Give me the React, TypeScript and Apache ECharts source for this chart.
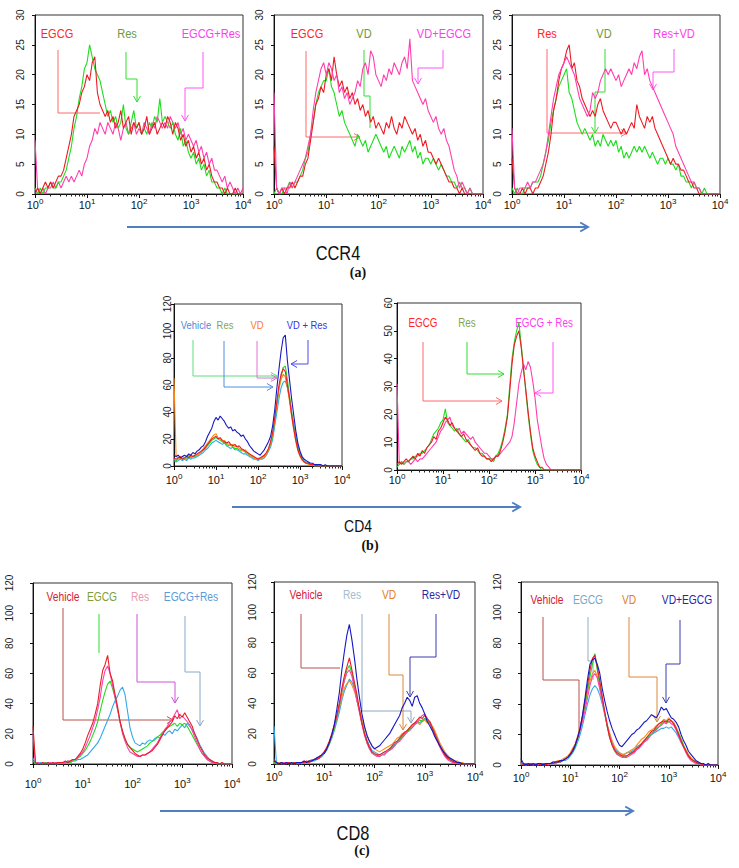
import React, { useEffect, useRef } from "react";
import * as echarts from "echarts";

// ---------- shared x positions (log10 of fluorescence, 10^0 .. 10^4) ----------
const LOGX = [
  0, 0.05, 0.1, 0.15, 0.2, 0.25, 0.3, 0.35, 0.4, 0.45,
  0.5, 0.55, 0.6, 0.65, 0.7, 0.75, 0.8, 0.85, 0.9, 0.95,
  1, 1.05, 1.1, 1.15, 1.2, 1.25, 1.3, 1.35, 1.4, 1.45,
  1.5, 1.55, 1.6, 1.65, 1.7, 1.75, 1.8, 1.85, 1.9, 1.95,
  2, 2.05, 2.1, 2.15, 2.2, 2.25, 2.3, 2.35, 2.4, 2.45,
  2.5, 2.55, 2.6, 2.65, 2.7, 2.75, 2.8, 2.85, 2.9, 2.95,
  3, 3.05, 3.1, 3.15, 3.2, 3.25, 3.3, 3.35, 3.4, 3.45,
  3.5, 3.55, 3.6, 3.65, 3.7, 3.75, 3.8, 3.85, 3.9, 3.95,
  4,
];
const X_TICKS = [0, 1, 2, 3, 4];

// ---------- (a) CCR4 ----------
const A1_EGCG = [
  0, 1, 0, 1, 2, 1, 2, 1, 2, 3,
  3, 4, 6, 8, 10, 13, 14, 15, 17, 18,
  20, 19, 22, 23, 17, 15, 14, 13, 14, 12,
  13, 11, 12, 14, 11, 12, 13, 10, 12, 11,
  12, 10, 11, 13, 10, 11, 12, 10, 11, 12,
  11, 13, 12, 10, 12, 11, 9, 10, 8, 9,
  7, 8, 6, 7, 5, 6, 4, 5, 3, 2,
  2, 1, 1, 0, 1, 0, 0, 1, 0, 0,
  0,
];
const A1_RES = [
  1, 0, 1, 0, 1, 1, 2, 1, 1, 2,
  2, 3, 4, 6, 8, 11, 13, 16, 18, 21,
  22, 25, 23, 21, 20, 19, 17, 15, 13, 14,
  12, 13, 11, 12, 15, 11, 10, 12, 14, 11,
  12, 10, 11, 10, 12, 11, 13, 12, 16, 12,
  13, 12, 11, 12, 10, 9, 11, 8, 9, 7,
  6, 7, 5, 6, 4, 5, 3, 4, 2, 2,
  1, 1, 0, 1, 0, 0, 0, 0, 0, 0,
  0,
];
const A1_EGCG_RES = [
  9, 1, 0, 1, 0, 1, 1, 2, 1, 2,
  1, 2, 3, 2, 3, 2, 3, 4, 3, 5,
  6, 8, 9, 11, 10, 12, 11, 10, 12, 11,
  10, 12, 11, 9, 11, 12, 10, 11, 12, 10,
  11, 10, 12, 11, 10, 12, 11, 13, 12, 11,
  12, 11, 13, 12, 11, 12, 10, 11, 9, 10,
  9, 8, 9, 7, 8, 6, 7, 5, 6, 4,
  4, 3, 2, 3, 1, 2, 1, 0, 1, 0,
  1,
];
const A2_EGCG = [
  8, 1, 0, 1, 0, 1, 1, 2, 1, 2,
  3, 3, 5, 6, 9, 12, 15, 16, 18, 17,
  20, 21, 19, 23, 20, 18, 19, 17, 18, 16,
  17, 15, 16, 14, 15, 13, 14, 12, 13, 11,
  12, 11, 10, 12, 11, 13, 11, 10, 12, 11,
  13, 12, 11, 10, 11, 9, 10, 8, 9, 7,
  7, 6, 5, 6, 5, 4, 3, 2, 2, 1,
  1, 0, 1, 0, 0, 0, 0, 0, 0, 0,
  0,
];
const A2_VD = [
  0, 1, 0, 0, 1, 1, 2, 1, 2, 2,
  3, 4, 6, 7, 10, 12, 15, 17, 18, 19,
  19, 21, 18, 17, 15, 13, 14, 12, 11, 10,
  9, 8, 10, 9, 8, 9, 7, 8, 9, 10,
  9, 8, 7, 8, 6, 7, 8, 7, 6, 8,
  7, 8, 9, 7, 8, 6, 7, 5, 6, 6,
  5, 6, 5, 4, 5, 4, 3, 3, 2, 2,
  1, 2, 1, 1, 0, 1, 0, 0, 0, 0,
  0,
];
const A2_VD_EGCG = [
  17, 1, 0, 1, 1, 0, 2, 1, 2, 3,
  4, 5, 6, 8, 10, 14, 17, 19, 21, 22,
  20, 22, 21, 19, 20, 17, 18, 16, 17, 15,
  16, 17, 19, 18, 21, 22, 20, 24, 23, 20,
  19, 18, 20, 19, 21, 20, 22, 21, 20, 22,
  23, 21, 26, 19, 18, 17, 16, 15, 16, 14,
  13, 12, 13, 11, 10, 11, 9, 8, 6, 4,
  3, 1, 2, 1, 0, 1, 0, 0, 0, 0,
  0,
];
const A3_RES = [
  6, 1, 0, 0, 1, 0, 1, 1, 0, 1,
  1, 2, 3, 5, 7, 10, 14, 16, 19, 21,
  22, 24, 25, 21, 22, 19, 18, 16, 15, 14,
  13, 14, 13, 15, 16, 14, 13, 12, 11, 12,
  12, 11, 10, 11, 10, 11, 12, 11, 15, 13,
  12, 11, 13, 12, 13, 11, 10, 9, 8, 7,
  6, 5, 6, 5, 5, 4, 4, 3, 2, 2,
  1, 1, 0, 0, 0, 0, 0, 0, 0, 0,
  0,
];
const A3_VD = [
  1, 0, 1, 0, 0, 1, 1, 1, 2, 2,
  2, 3, 5, 7, 9, 12, 14, 16, 18, 19,
  20, 21, 17, 16, 14, 12, 11, 10, 11, 10,
  9, 10, 8, 9, 8, 10, 9, 8, 9, 8,
  9, 7, 8, 6, 7, 6, 7, 8, 7, 8,
  7, 8, 7, 6, 7, 6, 5, 6, 6, 5,
  6, 5, 5, 4, 5, 3, 3, 2, 2, 1,
  2, 1, 1, 0, 1, 0, 0, 0, 0, 0,
  0,
];
const A3_RES_VD = [
  11, 1, 0, 1, 1, 1, 2, 1, 2, 2,
  3, 4, 5, 7, 10, 13, 16, 18, 20, 21,
  22, 23, 22, 21, 20, 18, 16, 15, 14, 13,
  14, 17, 16, 17, 19, 20, 21, 20, 21, 20,
  19, 20, 18, 19, 20, 21, 20, 22, 21, 23,
  24, 20, 21, 19, 18, 17, 16, 15, 14, 13,
  12, 11, 10, 8, 7, 6, 5, 4, 3, 2,
  2, 1, 1, 0, 0, 0, 0, 0, 0, 0,
  0,
];

// ---------- (b) CD4 ----------
const B1_VD_RES = [
  8, 7, 8, 6, 7, 8, 7, 9, 8, 10,
  9, 11, 12, 14, 15, 18, 22, 25, 28, 33,
  36, 34, 37, 35, 33, 30, 28, 29, 26, 27,
  25, 24, 22, 23, 20, 18, 15, 13, 11, 10,
  9, 8, 10, 12, 15, 18, 22, 30, 42, 58,
  72, 85, 95, 97, 78, 64, 50, 38, 26, 17,
  11, 7, 5, 4, 3, 2, 2, 1, 1, 1,
  1, 0, 1, 0, 0, 0, 0, 0, 0, 0,
  0,
];
const B1_RED = [
  6, 5, 6, 7, 5, 6, 7, 6, 8, 7,
  8, 9, 10, 11, 12, 14, 16, 18, 20, 21,
  22, 20, 21, 19, 18, 17, 18, 16, 15, 16,
  14, 15, 13, 12, 11, 10, 9, 8, 7, 6,
  5, 6, 7, 8, 10, 13, 18, 25, 36, 48,
  60, 68, 72, 70, 60, 50, 38, 28, 19, 12,
  8, 5, 3, 2, 2, 1, 1, 1, 0, 0,
  0, 0, 0, 0, 0, 0, 0, 0, 0, 0,
  0,
];
const B1_VD = [
  65, 7, 6, 5, 7, 6, 6, 8, 7, 7,
  8, 8, 9, 11, 13, 15, 17, 19, 21, 23,
  24, 21, 20, 18, 19, 17, 16, 15, 16, 14,
  15, 13, 12, 11, 12, 10, 8, 7, 6, 5,
  6, 5, 6, 7, 9, 12, 17, 24, 34, 46,
  58, 64, 68, 66, 58, 48, 37, 27, 18, 11,
  7, 4, 3, 2, 1, 1, 1, 0, 0, 0,
  0, 0, 0, 0, 0, 0, 0, 0, 0, 0,
  0,
];
const B1_RES = [
  5, 4, 5, 6, 5, 6, 5, 7, 6, 7,
  7, 8, 9, 10, 12, 13, 15, 17, 19, 20,
  21, 20, 19, 18, 17, 16, 15, 16, 14, 13,
  13, 12, 11, 12, 10, 9, 8, 7, 6, 6,
  5, 6, 6, 8, 9, 12, 16, 22, 33, 45,
  57, 66, 73, 74, 64, 52, 40, 29, 20, 13,
  8, 5, 3, 2, 2, 1, 1, 0, 0, 0,
  0, 0, 0, 0, 0, 0, 0, 0, 0, 0,
  0,
];
const B1_VEHICLE = [
  4, 3, 4, 5, 4, 5, 4, 6, 5, 6,
  6, 7, 8, 9, 10, 12, 13, 15, 17, 18,
  19, 18, 17, 16, 17, 15, 14, 13, 14, 12,
  12, 11, 10, 9, 9, 8, 7, 6, 5, 5,
  4, 5, 5, 6, 8, 11, 14, 20, 30, 40,
  50, 58, 62, 63, 58, 50, 40, 31, 22, 15,
  10, 6, 4, 3, 2, 1, 1, 0, 0, 0,
  0, 0, 0, 0, 0, 0, 0, 0, 0, 0,
  0,
];
const B2_EGCG = [
  2, 3, 2, 3, 4, 3, 4, 5, 4, 6,
  5, 7, 6, 8, 9, 10, 12, 11, 14, 15,
  17, 19, 18, 16, 17, 15, 14, 13, 12, 13,
  11, 10, 9, 8, 7, 8, 6, 5, 5, 4,
  4, 3, 4, 5, 5, 7, 10, 14, 19, 28,
  38, 45, 48, 50, 44, 36, 29, 21, 14, 8,
  5, 3, 1, 1, 0, 0, 0, 0, 0, 0,
  0, 0, 0, 0, 0, 0, 0, 0, 0, 0,
  0,
];
const B2_RES = [
  1, 2, 3, 2, 3, 3, 4, 4, 5, 5,
  6, 6, 7, 8, 9, 11, 13, 14, 15, 17,
  18, 22, 17, 16, 15, 14, 15, 13, 12, 11,
  10, 11, 9, 8, 8, 7, 6, 6, 5, 4,
  4, 4, 3, 5, 6, 8, 11, 15, 20, 30,
  40, 46, 50, 53, 45, 37, 28, 20, 13, 7,
  4, 2, 1, 0, 0, 0, 0, 0, 0, 0,
  0, 0, 0, 0, 0, 0, 0, 0, 0, 0,
  0,
];
const B2_EGCG_RES = [
  31, 2, 3, 2, 3, 3, 2, 3, 4, 3,
  4, 4, 5, 6, 7, 8, 9, 10, 12, 14,
  15, 17, 18, 19, 16, 15, 14, 15, 13, 14,
  13, 12, 11, 12, 10, 9, 8, 7, 6, 6,
  5, 4, 4, 5, 5, 6, 7, 8, 9, 10,
  12, 17, 24, 31, 35, 38, 36, 39, 37, 32,
  26, 18, 13, 8, 4, 2, 1, 0, 0, 0,
  0, 0, 0, 0, 0, 0, 0, 0, 0, 0,
  0,
];

// ---------- (c) CD8 ----------
const C1_VEHICLE = [
  25, 1, 0, 0, 1, 0, 1, 0, 1, 0,
  1, 1, 1, 2, 1, 2, 3, 3, 5, 7,
  10, 14, 19, 23, 27, 33, 40, 52, 62, 66,
  72, 60, 55, 46, 38, 28, 22, 17, 13, 11,
  9, 7, 6, 5, 6, 6, 7, 8, 9, 11,
  13, 16, 19, 22, 24, 26, 28, 32, 30, 33,
  31, 34, 31, 28, 25, 20, 16, 12, 9, 6,
  4, 3, 2, 1, 1, 0, 1, 0, 0, 0,
  0,
];
const C1_EGCG = [
  2, 0, 1, 0, 0, 1, 0, 0, 1, 0,
  0, 1, 1, 1, 2, 1, 2, 3, 4, 5,
  7, 9, 12, 15, 19, 23, 28, 35, 42, 48,
  53, 55, 50, 44, 36, 28, 21, 16, 13, 11,
  10, 9, 8, 9, 10, 11, 12, 14, 15, 16,
  18, 19, 21, 22, 24, 25, 26, 27, 25, 27,
  26, 27, 25, 22, 19, 16, 13, 10, 7, 5,
  3, 2, 1, 1, 0, 0, 0, 0, 0, 0,
  0,
];
const C1_RES = [
  20, 0, 1, 0, 1, 0, 0, 1, 0, 1,
  1, 0, 1, 1, 2, 2, 3, 3, 4, 6,
  8, 11, 15, 19, 24, 29, 36, 44, 55, 62,
  65, 60, 52, 44, 36, 28, 20, 15, 11, 8,
  7, 6, 5, 5, 6, 6, 7, 8, 10, 12,
  14, 17, 20, 23, 25, 28, 30, 33, 36, 30,
  32, 30, 28, 26, 22, 18, 14, 10, 7, 5,
  3, 2, 1, 1, 0, 0, 0, 0, 0, 0,
  0,
];
const C1_EGCG_RES = [
  4, 0, 0, 1, 0, 0, 1, 0, 0, 0,
  0, 1, 0, 1, 1, 1, 2, 2, 3, 3,
  4, 5, 6, 8, 10, 12, 14, 17, 21, 25,
  29, 33, 38, 42, 45, 49, 51, 46, 35, 24,
  18, 14, 13, 12, 14, 13, 15, 16, 15, 17,
  18, 17, 20, 19, 21, 22, 20, 23, 22, 24,
  26, 24, 27, 25, 23, 20, 17, 13, 10, 7,
  5, 3, 2, 1, 1, 0, 0, 0, 0, 0,
  0,
];
const C2_RES_VD = [
  2, 1, 0, 1, 0, 1, 0, 1, 0, 1,
  1, 1, 2, 1, 2, 2, 3, 4, 5, 6,
  7, 10, 14, 19, 26, 36, 47, 62, 74, 85,
  92, 82, 70, 56, 44, 33, 25, 19, 15, 12,
  10, 11, 12, 14, 16, 18, 20, 23, 26, 29,
  32, 37, 40, 44, 42, 38, 44, 45, 40, 37,
  33, 28, 25, 22, 18, 15, 12, 9, 7, 5,
  4, 3, 2, 1, 1, 0, 0, 0, 0, 0,
  0,
];
const C2_VEHICLE = [
  3, 1, 0, 1, 0, 0, 1, 0, 1, 0,
  0, 1, 1, 2, 1, 2, 3, 3, 4, 6,
  8, 11, 15, 20, 26, 32, 40, 50, 58, 64,
  70, 62, 54, 46, 36, 27, 20, 15, 11, 8,
  7, 6, 6, 7, 8, 9, 10, 12, 14, 15,
  17, 19, 21, 22, 24, 26, 27, 29, 31, 30,
  32, 30, 28, 24, 20, 16, 12, 9, 6, 4,
  3, 2, 1, 1, 0, 0, 0, 0, 0, 0,
  0,
];
const C2_RES = [
  25, 0, 1, 0, 0, 1, 0, 0, 1, 0,
  1, 0, 1, 1, 2, 2, 2, 3, 4, 5,
  7, 9, 13, 17, 22, 28, 34, 42, 48, 52,
  56, 54, 50, 42, 35, 27, 21, 16, 12, 9,
  8, 7, 6, 7, 8, 8, 10, 11, 13, 14,
  16, 18, 20, 22, 23, 25, 27, 28, 27, 29,
  30, 29, 27, 24, 21, 17, 13, 10, 7, 5,
  3, 2, 1, 1, 1, 0, 0, 0, 0, 0,
  0,
];
const C2_VD = [
  1, 0, 1, 1, 0, 1, 1, 0, 1, 1,
  1, 1, 2, 1, 2, 3, 3, 4, 5, 6,
  8, 10, 14, 18, 24, 30, 37, 44, 50, 53,
  55, 52, 48, 42, 36, 30, 24, 19, 15, 12,
  10, 9, 8, 9, 10, 11, 12, 13, 15, 17,
  18, 20, 21, 22, 24, 25, 27, 28, 26, 28,
  29, 27, 28, 25, 22, 18, 14, 11, 8, 6,
  4, 3, 2, 2, 1, 1, 0, 0, 0, 0,
  0,
];
const C2_GREEN = [
  1, 0, 0, 1, 0, 1, 0, 1, 0, 0,
  1, 0, 1, 1, 2, 2, 3, 3, 4, 5,
  7, 10, 13, 18, 23, 30, 38, 47, 55, 62,
  65, 60, 52, 44, 35, 27, 20, 14, 10, 8,
  6, 6, 5, 6, 7, 8, 9, 11, 12, 14,
  16, 18, 20, 21, 23, 24, 26, 27, 29, 28,
  30, 28, 27, 24, 20, 16, 12, 9, 6, 4,
  3, 2, 1, 1, 0, 0, 0, 0, 0, 0,
  0,
];
const C2_MAGENTA = [
  0, 1, 0, 0, 1, 0, 1, 0, 0, 1,
  0, 1, 1, 1, 2, 2, 3, 4, 4, 6,
  8, 10, 14, 19, 25, 31, 39, 48, 55, 60,
  62, 58, 50, 42, 34, 26, 19, 14, 10, 7,
  6, 5, 5, 6, 6, 8, 9, 10, 12, 14,
  15, 17, 19, 21, 22, 24, 26, 28, 30, 32,
  33, 30, 27, 23, 19, 15, 11, 8, 5, 3,
  2, 1, 1, 0, 0, 0, 0, 0, 0, 0,
  0,
];
const C3_VD_EGCG = [
  4, 1, 0, 1, 0, 1, 0, 1, 1, 0,
  1, 1, 1, 2, 2, 2, 3, 3, 4, 5,
  7, 9, 13, 18, 24, 33, 44, 56, 66, 69,
  70, 66, 60, 50, 42, 35, 29, 24, 20, 16,
  13, 12, 14, 16, 18, 20, 21, 23, 24, 26,
  28, 29, 31, 33, 32, 31, 34, 38, 36, 37,
  34, 31, 30, 28, 25, 20, 16, 13, 9, 7,
  5, 3, 2, 1, 1, 0, 1, 0, 0, 0,
  0,
];
const C3_VEHICLE = [
  2, 0, 1, 0, 1, 0, 0, 1, 0, 1,
  0, 1, 1, 1, 2, 2, 2, 3, 4, 5,
  7, 10, 13, 18, 24, 32, 42, 52, 62, 70,
  72, 64, 55, 45, 35, 26, 18, 13, 10, 8,
  7, 6, 6, 6, 7, 8, 9, 11, 12, 14,
  16, 18, 20, 22, 23, 25, 27, 28, 29, 28,
  30, 29, 27, 24, 20, 16, 12, 9, 6, 4,
  3, 2, 1, 1, 0, 0, 0, 0, 0, 0,
  0,
];
const C3_EGCG = [
  1, 0, 0, 1, 0, 1, 0, 0, 1, 0,
  1, 0, 1, 1, 1, 2, 2, 3, 3, 4,
  6, 8, 11, 15, 20, 26, 33, 40, 46, 50,
  52, 50, 46, 40, 33, 26, 20, 15, 11, 9,
  8, 7, 7, 8, 8, 9, 10, 12, 13, 14,
  16, 17, 19, 20, 21, 22, 23, 24, 24, 25,
  24, 25, 23, 21, 18, 15, 12, 9, 6, 4,
  3, 2, 1, 1, 0, 0, 0, 0, 0, 0,
  0,
];
const C3_VD = [
  1, 1, 0, 1, 1, 0, 1, 1, 0, 1,
  1, 1, 1, 2, 2, 3, 3, 4, 5, 6,
  8, 11, 14, 19, 25, 32, 40, 48, 55, 60,
  62, 58, 50, 42, 34, 27, 21, 16, 12, 10,
  8, 7, 7, 8, 9, 10, 11, 13, 15, 17,
  18, 20, 22, 23, 24, 26, 27, 28, 30, 29,
  31, 29, 28, 25, 21, 17, 13, 10, 7, 5,
  3, 2, 2, 1, 1, 0, 0, 0, 0, 0,
  0,
];
const C3_GREEN = [
  0, 1, 0, 0, 1, 0, 1, 0, 1, 0,
  0, 1, 1, 1, 1, 2, 2, 3, 4, 5,
  6, 9, 12, 17, 23, 30, 39, 49, 58, 66,
  73, 62, 52, 43, 34, 25, 18, 13, 9, 7,
  6, 6, 5, 6, 7, 8, 9, 11, 12, 14,
  15, 17, 19, 21, 22, 24, 25, 27, 28, 29,
  28, 29, 27, 24, 21, 17, 13, 9, 6, 4,
  3, 2, 1, 0, 0, 0, 0, 0, 0, 0,
  0,
];
const C3_MAGENTA = [
  0, 1, 0, 1, 0, 0, 1, 0, 1, 0,
  1, 0, 1, 1, 2, 2, 3, 3, 4, 5,
  7, 10, 13, 18, 23, 29, 36, 44, 52, 58,
  60, 57, 50, 42, 34, 26, 19, 14, 10, 7,
  6, 5, 5, 5, 6, 7, 8, 10, 11, 13,
  15, 16, 18, 20, 22, 23, 25, 26, 28, 27,
  29, 27, 26, 23, 19, 15, 12, 8, 5, 3,
  2, 1, 1, 0, 0, 0, 0, 0, 0, 0,
  0,
];

// ---------- styling / layout ----------
const SANS = "'Liberation Sans','DejaVu Sans',sans-serif";
const SERIF = "'Liberation Serif','DejaVu Serif',serif";
const NARROW_SCALE = 0.82; // Arial-metric font squeezed to mimic a narrow face

const RED = "#ec1c24";
const GREEN = "#1fdc1f";
const PINK = "#ff3fae";
const ORANGE = "#ff8a1c";
const CYAN = "#2fa9ec";
const NAVY = "#1717c4";

type Curve = { data: number[]; color: string };
type Panel = {
  box: [number, number, number, number];
  ymax: number;
  step: number;
  yMargin: number;
  xMargin: number;
  font: number;
  curves: Curve[];
};

const PANELS: Panel[] = [
  { box: [35, 15, 208, 179], ymax: 30, step: 5, yMargin: 10, xMargin: 3, font: 10,
    curves: [{ data: A1_EGCG_RES, color: PINK }, { data: A1_RES, color: GREEN }, { data: A1_EGCG, color: RED }] },
  { box: [274, 15, 209, 179], ymax: 30, step: 5, yMargin: 10, xMargin: 3, font: 10,
    curves: [{ data: A2_VD, color: GREEN }, { data: A2_EGCG, color: RED }, { data: A2_VD_EGCG, color: PINK }] },
  { box: [512, 15, 208, 179], ymax: 30, step: 5, yMargin: 10, xMargin: 3, font: 10,
    curves: [{ data: A3_VD, color: GREEN }, { data: A3_RES, color: RED }, { data: A3_RES_VD, color: PINK }] },
  { box: [174, 304, 168, 162], ymax: 120, step: 20, yMargin: 2, xMargin: 6, font: 10,
    curves: [{ data: B1_VEHICLE, color: CYAN }, { data: B1_RES, color: GREEN }, { data: B1_VD, color: ORANGE },
      { data: B1_RED, color: RED }, { data: B1_VD_RES, color: NAVY }] },
  { box: [397, 303, 184, 167], ymax: 60, step: 10, yMargin: 4, xMargin: 2, font: 10,
    curves: [{ data: B2_EGCG_RES, color: PINK }, { data: B2_RES, color: GREEN }, { data: B2_EGCG, color: RED }] },
  { box: [33, 583, 199, 181], ymax: 120, step: 20, yMargin: 19, xMargin: 12, font: 10,
    curves: [{ data: C1_EGCG_RES, color: CYAN }, { data: C1_EGCG, color: GREEN }, { data: C1_RES, color: PINK },
      { data: C1_VEHICLE, color: RED }] },
  { box: [274, 582, 201, 182], ymax: 120, step: 20, yMargin: 17, xMargin: 5, font: 10,
    curves: [{ data: C2_RES, color: CYAN }, { data: C2_VD, color: ORANGE }, { data: C2_GREEN, color: GREEN },
      { data: C2_MAGENTA, color: PINK }, { data: C2_VEHICLE, color: RED }, { data: C2_RES_VD, color: NAVY }] },
  { box: [521, 582, 197, 183], ymax: 120, step: 20, yMargin: 19, xMargin: 5, font: 10,
    curves: [{ data: C3_EGCG, color: CYAN }, { data: C3_VD, color: ORANGE }, { data: C3_GREEN, color: GREEN },
      { data: C3_MAGENTA, color: PINK }, { data: C3_VEHICLE, color: RED }, { data: C3_VD_EGCG, color: NAVY }] },
];

// legend-like labels drawn above each histogram
type Label = { text: string; x: number; y: number; color: string; size: number };
const LABELS: Label[] = [
  { text: "EGCG", x: 57, y: 34, color: "#ff2626", size: 13.5 },
  { text: "Res", x: 127, y: 34, color: "#6f9a3a", size: 13.5 },
  { text: "EGCG+Res", x: 211, y: 34, color: "#ff3cf0", size: 13.5 },
  { text: "EGCG", x: 307, y: 34, color: "#ff2626", size: 13.5 },
  { text: "VD", x: 364, y: 34, color: "#6f9a3a", size: 13.5 },
  { text: "VD+EGCG", x: 444, y: 34, color: "#ff3cf0", size: 13.5 },
  { text: "Res", x: 547, y: 34, color: "#ff2626", size: 13.5 },
  { text: "VD", x: 604, y: 34, color: "#6f9a3a", size: 13.5 },
  { text: "Res+VD", x: 674, y: 34, color: "#ff3cf0", size: 13.5 },
  { text: "Vehicle", x: 196, y: 325, color: "#4f86d8", size: 11.5 },
  { text: "Res", x: 225, y: 325, color: "#86a448", size: 11.5 },
  { text: "VD", x: 257, y: 325, color: "#ff7a1c", size: 11.5 },
  { text: "VD + Res", x: 307, y: 325, color: "#3535e6", size: 11.5 },
  { text: "EGCG", x: 423, y: 323, color: "#ff2626", size: 12 },
  { text: "Res", x: 467, y: 323, color: "#86a448", size: 12 },
  { text: "EGCG + Res", x: 544, y: 323, color: "#ff3cf0", size: 12 },
  { text: "Vehicle", x: 63, y: 597, color: "#d42035", size: 12.5 },
  { text: "EGCG", x: 102, y: 597, color: "#7c9e3a", size: 12.5 },
  { text: "Res", x: 140, y: 597, color: "#e89aae", size: 12.5 },
  { text: "EGCG+Res", x: 191, y: 597, color: "#5c9ad8", size: 12.5 },
  { text: "Vehicle", x: 306, y: 595, color: "#d42035", size: 12.5 },
  { text: "Res", x: 352, y: 595, color: "#a5bcd2", size: 12.5 },
  { text: "VD", x: 389, y: 595, color: "#e0802c", size: 12.5 },
  { text: "Res+VD", x: 441, y: 595, color: "#26269e", size: 12.5 },
  { text: "Vehicle", x: 547, y: 600, color: "#d42035", size: 12.5 },
  { text: "EGCG", x: 588, y: 600, color: "#78a8c8", size: 12.5 },
  { text: "VD", x: 629, y: 600, color: "#e0802c", size: 12.5 },
  { text: "VD+EGCG", x: 687, y: 600, color: "#2424b0", size: 12.5 },
];

// bracket pointers from the labels to the curves
type Pointer = { pts: number[][]; color: string; arrow: boolean };
const POINTERS: Pointer[] = [
  { pts: [[58, 50], [58, 113], [100, 113]], color: "#ff6a6a", arrow: false },
  { pts: [[126, 52], [126, 79], [137, 79], [137, 102]], color: "#2ee02e", arrow: true },
  { pts: [[203, 52], [203, 88], [185, 88], [185, 121]], color: "#ff55f5", arrow: true },
  { pts: [[306, 51], [306, 137], [360, 137]], color: "#ff6a6a", arrow: true },
  { pts: [[364, 50], [364, 96], [370, 96], [370, 128]], color: "#2ee02e", arrow: false },
  { pts: [[443, 50], [443, 68], [418, 68], [418, 84]], color: "#ff55f5", arrow: true },
  { pts: [[547, 49], [547, 133], [627, 133]], color: "#ff6a6a", arrow: true },
  { pts: [[605, 49], [605, 92], [595, 92], [595, 133]], color: "#2ee02e", arrow: true },
  { pts: [[674, 49], [674, 72], [653, 72], [653, 90]], color: "#ff55f5", arrow: true },
  { pts: [[193, 340], [193, 376], [277, 376]], color: "#5ce07a", arrow: true },
  { pts: [[224, 341], [224, 387], [273, 387]], color: "#4f8ee0", arrow: true },
  { pts: [[257, 341], [257, 378], [277, 378]], color: "#e070d8", arrow: true },
  { pts: [[308, 340], [308, 364], [291, 364]], color: "#4a4af0", arrow: true },
  { pts: [[423, 342], [423, 401], [502, 401]], color: "#ff6a6a", arrow: true },
  { pts: [[467, 342], [467, 374], [504, 374]], color: "#2ee02e", arrow: true },
  { pts: [[553, 342], [553, 393], [535, 393]], color: "#ff55f5", arrow: true },
  { pts: [[63, 608], [63, 720], [173, 720]], color: "#b8504a", arrow: true },
  { pts: [[99, 614], [99, 653]], color: "#2ee02e", arrow: false },
  { pts: [[137, 614], [137, 682], [175, 682], [175, 703]], color: "#d050d8", arrow: true },
  { pts: [[185, 616], [185, 672], [200, 672], [200, 726]], color: "#8aa8c8", arrow: true },
  { pts: [[301, 614], [301, 668], [340, 668]], color: "#b8504a", arrow: false },
  { pts: [[362, 614], [362, 711], [411, 711], [411, 723]], color: "#8aa8c0", arrow: true },
  { pts: [[389, 614], [389, 675], [403, 675], [403, 730]], color: "#d88a3c", arrow: true },
  { pts: [[436, 614], [436, 657], [410, 657], [410, 697]], color: "#3a3ab0", arrow: true },
  { pts: [[543, 617], [543, 680], [579, 680], [579, 738]], color: "#b8504a", arrow: false },
  { pts: [[588, 617], [588, 661], [593, 661], [593, 680]], color: "#8ab0c8", arrow: false },
  { pts: [[629, 617], [629, 677], [657, 677], [657, 722]], color: "#d88a3c", arrow: true },
  { pts: [[680, 620], [680, 664], [666, 664], [666, 703]], color: "#3a3ab0", arrow: true },
];

function arrowHead(a: number[], b: number[], len: number): number[][] {
  const ang = Math.atan2(b[1] - a[1], b[0] - a[0]);
  const s = Math.PI / 6;
  return [
    [b[0] - len * Math.cos(ang - s), b[1] - len * Math.sin(ang - s)],
    [b[0], b[1]],
    [b[0] - len * Math.cos(ang + s), b[1] - len * Math.sin(ang + s)],
  ];
}

function narrowText(text: string, x: number, y: number, size: number, color: string, weight = "normal") {
  return {
    type: "text", x, y, scaleX: NARROW_SCALE, scaleY: 1, silent: true,
    style: { text, fill: color, fontSize: size, fontFamily: SANS, fontWeight: weight,
      textAlign: "center", textVerticalAlign: "middle" },
  };
}

function buildOption() {
  const minorTicks: number[] = [];
  for (let d = 0; d < 4; d++) for (let k = 2; k <= 9; k++) minorTicks.push(d + Math.log10(k));

  const grid: any[] = [];
  const xAxis: any[] = [];
  const yAxis: any[] = [];
  const series: any[] = [];

  PANELS.forEach((p, i) => {
    grid.push({
      left: p.box[0], top: p.box[1], width: p.box[2], height: p.box[3],
      show: true, borderColor: "#333", borderWidth: 1, backgroundColor: "transparent",
      containLabel: false, outerBoundsMode: "none",
    });
    xAxis.push({
      type: "value", gridIndex: i, min: 0, max: 4, interval: 1, position: "bottom",
      axisLine: { show: true, onZero: false, lineStyle: { color: "#111", width: 1 } },
      axisTick: { show: true, length: 4, lineStyle: { color: "#111" } },
      splitLine: { show: false },
      axisLabel: {
        margin: p.xMargin,
        formatter: (v: number) => (X_TICKS.includes(v) ? `{b|10}{s|${v}}` : ""),
        rich: {
          b: { fontSize: p.font + 1, fontFamily: SANS, color: "#111", lineHeight: p.font + 5 },
          s: { fontSize: p.font - 2, fontFamily: SANS, color: "#111", verticalAlign: "top" },
        },
      },
    });
    xAxis.push({
      type: "value", gridIndex: i, min: 0, max: 4, position: "bottom", offset: 0,
      axisLine: { show: false }, axisLabel: { show: false }, splitLine: { show: false },
      axisTick: { show: true, length: 2.5, customValues: minorTicks, lineStyle: { color: "#222" } },
    });
    yAxis.push({
      type: "value", gridIndex: i, min: 0, max: p.ymax, interval: p.step,
      axisLine: { show: true, onZero: false, lineStyle: { color: "#111", width: 1 } },
      axisTick: { show: true, length: 3, lineStyle: { color: "#111" } },
      splitLine: { show: false },
      axisLabel: { rotate: 90, margin: p.yMargin, fontSize: p.font, fontFamily: SANS, color: "#222" },
    });
    p.curves.forEach((c) => {
      series.push({
        type: "line", xAxisIndex: 2 * i, yAxisIndex: i, showSymbol: false, symbol: "none",
        clip: true, silent: true,
        lineStyle: { color: c.color, width: 1.1 },
        data: LOGX.map((x, k) => [x, c.data[k]]),
      });
    });
  });

  const graphic: any[] = [];
  LABELS.forEach((l) => graphic.push(narrowText(l.text, l.x, l.y, l.size, l.color)));
  POINTERS.forEach((pt) => {
    graphic.push({ type: "polyline", silent: true, shape: { points: pt.pts },
      style: { stroke: pt.color, lineWidth: 1, fill: null } });
    if (pt.arrow) {
      const n = pt.pts.length;
      graphic.push({ type: "polyline", silent: true, shape: { points: arrowHead(pt.pts[n - 2], pt.pts[n - 1], 7) },
        style: { stroke: pt.color, lineWidth: 1, fill: null } });
    }
  });
  // big axis arrows
  const bigArrows = [
    [[127, 227], [588, 227]],
    [[232, 507], [520, 507]],
    [[160, 811], [633, 811]],
  ];
  bigArrows.forEach((a) => {
    graphic.push({ type: "polyline", silent: true, shape: { points: a },
      style: { stroke: "#4f7fbf", lineWidth: 2, fill: null } });
    graphic.push({ type: "polyline", silent: true, shape: { points: arrowHead(a[0], a[1], 9) },
      style: { stroke: "#4f7fbf", lineWidth: 2, fill: null } });
  });
  graphic.push(narrowText("CCR4", 338, 253, 20, "#111"));
  graphic.push(narrowText("CD4", 358, 526, 17, "#111"));
  graphic.push(narrowText("CD8", 353, 833, 20, "#111"));
  const subs = [
    { t: "(a)", x: 358, y: 272 },
    { t: "(b)", x: 370, y: 545 },
    { t: "(c)", x: 362, y: 850 },
  ];
  subs.forEach((s) => {
    graphic.push({ type: "text", x: s.x, y: s.y, silent: true,
      style: { text: s.t, fill: "#111", fontSize: 14, fontFamily: SERIF, fontWeight: "bold",
        textAlign: "center", textVerticalAlign: "middle" } });
  });

  return { animation: false, backgroundColor: "#ffffff", grid, xAxis, yAxis, series, graphic };
}

export default function App() {
  const ref = useRef<HTMLDivElement>(null);
  useEffect(() => {
    if (!ref.current) return;
    const chart = echarts.init(ref.current, undefined, { renderer: "svg" });
    chart.setOption(buildOption() as any);
    return () => chart.dispose();
  }, []);
  return (
    <div
      ref={ref}
      style={{ position: "absolute", left: 0, top: 0, width: 739, height: 868, background: "#fff" }}
    />
  );
}
